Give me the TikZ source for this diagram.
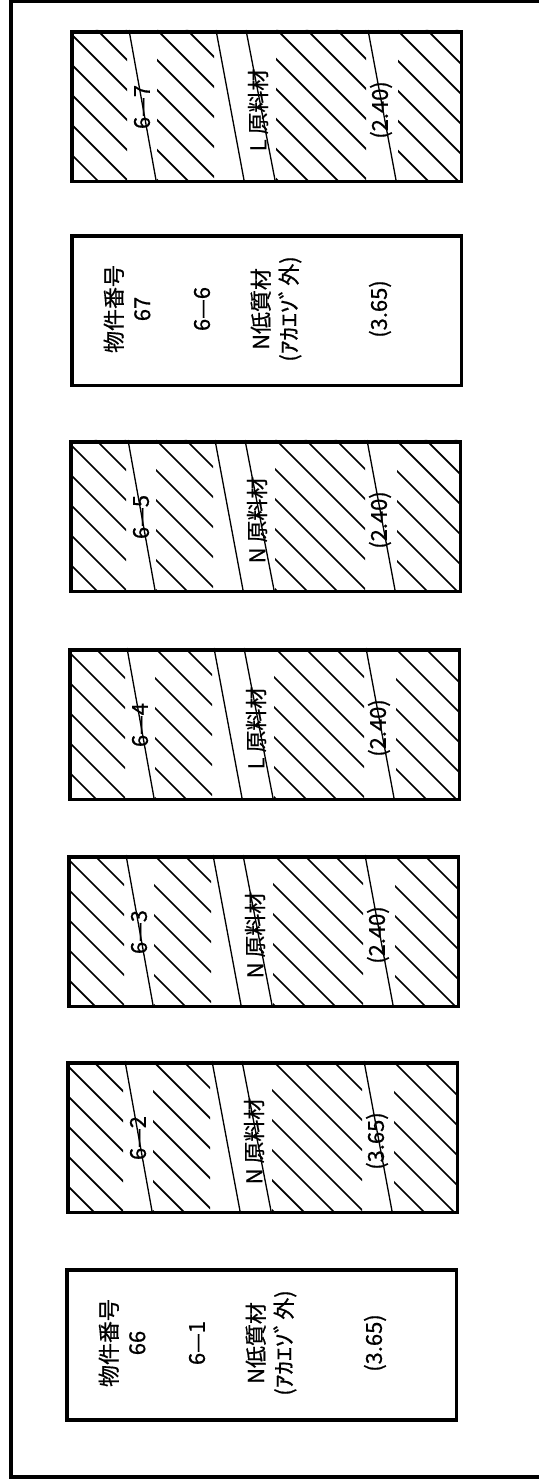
\documentclass[tikz,border=0pt]{standalone}
\usepackage{fontspec}
\setmainfont{Noto Sans CJK JP}[FakeBold=0.6]
\usepackage{graphicx}
\usepackage{tikz}
\usetikzlibrary{positioning}
\tikzset{
  outerframe/.style={line width=2.2pt},
  piece/.style={draw, line width=2pt, minimum width=7.8cm, minimum height=3cm,
    anchor=north west, inner sep=0pt},
  hatch/.style={line width=1pt},
  cut/.style={line width=0.75pt},
  txt/.style={rotate=90, align=center, inner sep=0pt,
    font=\fontsize{12.5}{16}\selectfont},
  zones/.style={insert path={(0,0) rectangle (57,150) (87,0) rectangle (144,150)
    (206,0) rectangle (296,150) (328,0) rectangle (390,150)}}
}

\begin{document}
\begin{tikzpicture}[x=0.02cm, y=-0.02cm]

\useasboundingbox (0,0) rectangle (538,1479);

%% frame
\coordinate (F1) at (545,1.5);
\coordinate (F2) at (11,1.5);
\coordinate (F3) at (11,1477);
\coordinate (F4) at (545,1477);
\draw[outerframe] (F1) -- (F2) -- (F3) -- (F4);

%% piece 6-7
\coordinate (P7) at (70,30);
\node[piece] (P7box) at (P7) {};
\begin{scope}[shift={(P7)}]
  \begin{scope}
    \clip[zones];
    \foreach \c in {-387,-357,...,153} \draw[hatch] (0,\c) -- +(400,400);
  \end{scope}
  \draw[cut] (59,0) -- (86,150);
  \draw[cut] (146,0) -- (174,150);
  \draw[cut] (176,0) -- (205,150);
  \draw[cut] (298,0) -- (326,150);
  \node[txt] (P7-no) at (72,77) {6—7};
  \node[txt] (P7-kind) at (188,80) {L 原料材};
  \node[txt] (P7-len) at (311,80) {(2.40)};
\end{scope}

%% piece 6-6
\coordinate (P6) at (70,234);
\node[piece] (P6box) at (P6) {};
\begin{scope}[shift={(P6)}]
  \node[txt] (P6-id) at (57,75) {物件番号\\67};
  \node[txt] (P6-no) at (132,75) {6—6};
  \node[txt] (P6-kind) at (206,75) {N低質材\\(\scalebox{1.25}[1]{ｱｶｴｿﾞ}外)};
  \node[txt] (P6-len) at (310,75) {(3.65)};
\end{scope}

%% piece 6-5
\coordinate (P5) at (69,440);
\node[piece] (P5box) at (P5) {};
\begin{scope}[shift={(P5)}]
  \begin{scope}
    \clip[zones];
    \foreach \c in {-387,-357,...,153} \draw[hatch] (0,\c) -- +(400,400);
  \end{scope}
  \draw[cut] (59,0) -- (86,150);
  \draw[cut] (146,0) -- (174,150);
  \draw[cut] (176,0) -- (205,150);
  \draw[cut] (298,0) -- (326,150);
  \node[txt] (P5-no) at (72,77) {6—5};
  \node[txt] (P5-kind) at (188,80) {N 原料材};
  \node[txt] (P5-len) at (311,80) {(2.40)};
\end{scope}

%% piece 6-4
\coordinate (P4) at (68,648);
\node[piece] (P4box) at (P4) {};
\begin{scope}[shift={(P4)}]
  \begin{scope}
    \clip[zones];
    \foreach \c in {-387,-357,...,153} \draw[hatch] (0,\c) -- +(400,400);
  \end{scope}
  \draw[cut] (59,0) -- (86,150);
  \draw[cut] (146,0) -- (174,150);
  \draw[cut] (176,0) -- (205,150);
  \draw[cut] (298,0) -- (326,150);
  \node[txt] (P4-no) at (72,77) {6—4};
  \node[txt] (P4-kind) at (188,80) {L 原料材};
  \node[txt] (P4-len) at (311,80) {(2.40)};
\end{scope}

%% piece 6-3
\coordinate (P3) at (67,855);
\node[piece] (P3box) at (P3) {};
\begin{scope}[shift={(P3)}]
  \begin{scope}
    \clip[zones];
    \foreach \c in {-387,-357,...,153} \draw[hatch] (0,\c) -- +(400,400);
  \end{scope}
  \draw[cut] (59,0) -- (86,150);
  \draw[cut] (146,0) -- (174,150);
  \draw[cut] (176,0) -- (205,150);
  \draw[cut] (298,0) -- (326,150);
  \node[txt] (P3-no) at (72,77) {6—3};
  \node[txt] (P3-kind) at (188,80) {N 原料材};
  \node[txt] (P3-len) at (311,80) {(2.40)};
\end{scope}

%% piece 6-2
\coordinate (P2) at (66,1061);
\node[piece] (P2box) at (P2) {};
\begin{scope}[shift={(P2)}]
  \begin{scope}
    \clip[zones];
    \foreach \c in {-387,-357,...,153} \draw[hatch] (0,\c) -- +(400,400);
  \end{scope}
  \draw[cut] (59,0) -- (86,150);
  \draw[cut] (146,0) -- (174,150);
  \draw[cut] (176,0) -- (205,150);
  \draw[cut] (298,0) -- (326,150);
  \node[txt] (P2-no) at (72,77) {6—2};
  \node[txt] (P2-kind) at (188,80) {N 原料材};
  \node[txt] (P2-len) at (311,80) {(3.65)};
\end{scope}

%% piece 6-1
\coordinate (P1) at (65,1268);
\node[piece] (P1box) at (P1) {};
\begin{scope}[shift={(P1)}]
  \node[txt] (P1-id) at (57,75) {物件番号\\66};
  \node[txt] (P1-no) at (132,75) {6—1};
  \node[txt] (P1-kind) at (206,75) {N低質材\\(\scalebox{1.25}[1]{ｱｶｴｿﾞ}外)};
  \node[txt] (P1-len) at (310,75) {(3.65)};
\end{scope}

\end{tikzpicture}
\end{document}
